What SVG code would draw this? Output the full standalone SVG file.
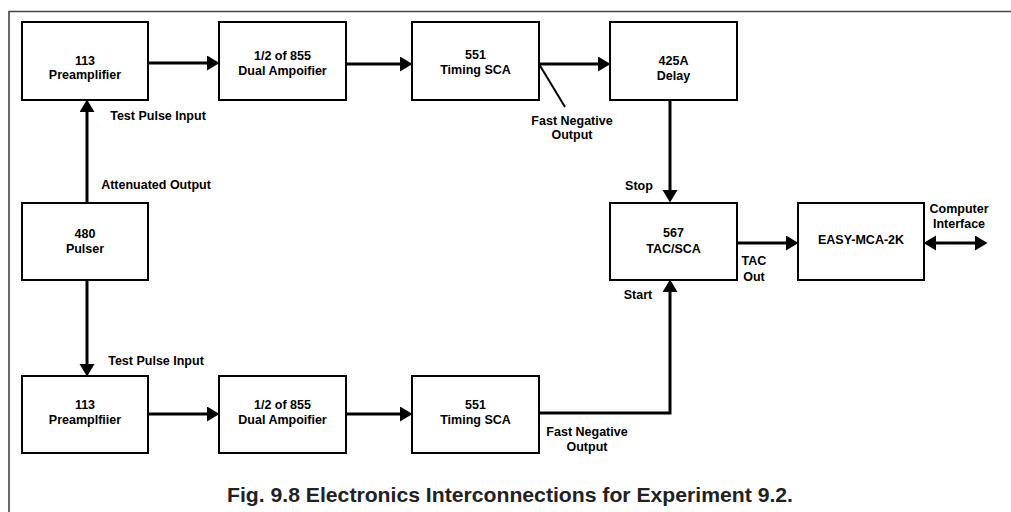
<svg xmlns="http://www.w3.org/2000/svg" width="1011" height="512" viewBox="0 0 1011 512">
<style>
.box{fill:#fff;stroke:#000;stroke-width:2}
.t{font-family:"Liberation Sans",Arial,sans-serif;font-weight:bold;font-size:12.5px;fill:#000;text-anchor:middle}
.c{fill:none;stroke:#000;stroke-width:3}
.cap{font-family:"Liberation Sans",Arial,sans-serif;font-weight:bold;font-size:20.5px;fill:#222;text-anchor:middle}
</style>
<defs>
<marker id="ah" markerUnits="userSpaceOnUse" markerWidth="14" markerHeight="16" refX="6" refY="7.5" orient="auto-start-reverse" viewBox="0 0 14 16">
<path d="M0,0 L12.5,7.5 L0,15 z" fill="#000"/>
</marker>
</defs>
<rect width="1011" height="512" fill="#fff"/>
<path d="M9,512 V11.5 H1011" fill="none" stroke="#444" stroke-width="1.6"/>

<g id="connectors">
<path class="c" d="M148,63 H213" marker-end="url(#ah)"/>
<path class="c" d="M346,64 H406" marker-end="url(#ah)"/>
<path class="c" d="M539,64 H604" marker-end="url(#ah)"/>
<path d="M539,64 L565,107" fill="none" stroke="#000" stroke-width="2"/>
<path class="c" d="M87,203 V106" marker-end="url(#ah)"/>
<path class="c" d="M87,280 V370" marker-end="url(#ah)"/>
<path class="c" d="M670,100 V196" marker-end="url(#ah)"/>
<path class="c" d="M148,414 H213" marker-end="url(#ah)"/>
<path class="c" d="M346,414 H406" marker-end="url(#ah)"/>
<path class="c" d="M539,413 H670 V286" marker-end="url(#ah)"/>
<path class="c" d="M737,243 H792" marker-end="url(#ah)"/>
<path class="c" d="M930,243 H981" marker-start="url(#ah)" marker-end="url(#ah)"/>
</g>

<g id="preamp-top"><rect class="box" x="22" y="22" width="126" height="78"/>
<text class="t" x="85" y="65">113</text><text class="t" x="85" y="79">Preamplifier</text></g>
<g id="amp-top"><rect class="box" x="219" y="22" width="127" height="78"/>
<text class="t" x="282.5" y="60">1/2 of 855</text><text class="t" x="282.5" y="75">Dual Ampoifier</text></g>
<g id="sca-top"><rect class="box" x="412" y="22" width="127" height="78"/>
<text class="t" x="475.5" y="59">551</text><text class="t" x="475.5" y="74">Timing SCA</text></g>
<g id="delay"><rect class="box" x="610" y="22" width="127" height="78"/>
<text class="t" x="673.5" y="65">425A</text><text class="t" x="673.5" y="80">Delay</text></g>
<g id="pulser"><rect class="box" x="22" y="203" width="126" height="77"/>
<text class="t" x="85" y="238">480</text><text class="t" x="85" y="253">Pulser</text></g>
<g id="tac"><rect class="box" x="610" y="203" width="127" height="77"/>
<text class="t" x="673.5" y="237">567</text><text class="t" x="673.5" y="253">TAC/SCA</text></g>
<g id="mca"><rect class="box" x="798" y="203" width="126" height="77"/>
<text class="t" x="861" y="244">EASY-MCA-2K</text></g>
<g id="preamp-bottom"><rect class="box" x="22" y="376" width="126" height="77"/>
<text class="t" x="85" y="409">113</text><text class="t" x="85" y="424">Preamplfiier</text></g>
<g id="amp-bottom"><rect class="box" x="219" y="376" width="127" height="77"/>
<text class="t" x="282.5" y="409">1/2 of 855</text><text class="t" x="282.5" y="424">Dual Ampoifier</text></g>
<g id="sca-bottom"><rect class="box" x="412" y="376" width="127" height="77"/>
<text class="t" x="475.5" y="409">551</text><text class="t" x="475.5" y="424">Timing SCA</text></g>

<g id="labels">
<text class="t" x="158" y="120">Test Pulse Input</text>
<text class="t" x="156" y="189">Attenuated Output</text>
<text class="t" x="572" y="125">Fast Negative</text><text class="t" x="572" y="139">Output</text>
<text class="t" x="639" y="190">Stop</text>
<text class="t" x="638" y="299">Start</text>
<text class="t" x="754" y="265">TAC</text><text class="t" x="754" y="281">Out</text>
<text class="t" x="959" y="213">Computer</text><text class="t" x="959" y="228">Interface</text>
<text class="t" x="156" y="365">Test Pulse Input</text>
<text class="t" x="587" y="436">Fast Negative</text><text class="t" x="587" y="451">Output</text>
</g>
<text class="cap" x="510" y="502" textLength="566" lengthAdjust="spacingAndGlyphs">Fig. 9.8 Electronics Interconnections for Experiment 9.2.</text>
</svg>
